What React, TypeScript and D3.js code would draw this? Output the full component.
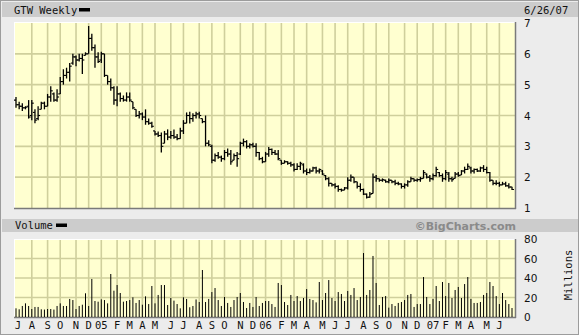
import React from "react";
import * as d3 from "d3";

const HIGH = [
  4.6,4.45,4.4,4.3,4.5,4.5,4.2,4.3,4.45,4.45,
  4.7,4.95,4.75,4.85,5.25,5.5,5.55,5.7,6.0,5.95,
  6.0,6.0,6.05,6.9,6.65,6.3,6.05,6.07,6.0,5.3,
  5.2,4.95,4.95,4.75,4.65,4.75,4.75,4.45,4.2,4.15,
  4.1,4.2,3.9,3.8,3.5,3.48,3.45,3.5,3.55,3.5,
  3.55,3.4,3.6,3.85,4.1,4.12,4.07,4.12,4.12,3.9,
  4.0,3.2,3.05,2.77,2.82,2.7,2.88,2.93,2.88,2.77,
  2.82,3.15,3.25,3.2,3.1,3.12,3.1,2.82,2.66,2.82,
  2.98,2.93,2.88,2.88,2.55,2.55,2.52,2.5,2.45,2.45,
  2.5,2.45,2.28,2.28,2.34,2.34,2.28,2.23,2.07,2.0,
  1.8,1.8,1.74,1.63,1.68,2.0,2.09,2.0,1.85,1.8,
  1.63,1.47,1.52,2.12,2.07,1.96,1.96,1.92,1.96,1.9,
  1.92,1.85,1.8,1.8,1.9,2.01,1.96,1.96,2.01,2.23,
  2.12,2.07,2.12,2.34,2.17,2.12,2.23,2.17,2.01,2.17,
  2.17,2.23,2.34,2.44,2.34,2.28,2.28,2.34,2.39,2.34,
  2.17,1.9,1.9,1.85,1.85,1.85,1.8,1.69,
];

const LOW = [
  4.25,4.2,4.15,4.2,3.9,3.85,3.75,3.85,4.2,4.2,
  4.3,4.45,4.45,4.45,4.7,5.0,5.2,5.1,5.65,5.6,
  5.75,5.35,5.95,6.0,6.1,5.55,5.7,5.7,5.25,5.0,
  4.8,4.35,4.3,4.45,4.45,4.45,4.45,4.2,3.95,3.9,
  3.85,3.7,3.7,3.6,3.35,3.3,2.8,3.1,3.2,3.25,
  3.25,3.2,3.25,3.4,3.75,3.74,3.8,3.9,3.9,3.75,
  3.0,3.0,2.45,2.5,2.6,2.5,2.55,2.66,2.4,2.55,
  2.34,2.72,3.0,2.93,2.93,2.96,2.66,2.55,2.45,2.5,
  2.66,2.72,2.72,2.55,2.4,2.45,2.4,2.34,2.18,2.23,
  2.23,2.12,2.07,2.12,2.18,2.12,2.12,2.07,1.9,1.7,
  1.7,1.63,1.53,1.53,1.58,1.6,1.85,1.8,1.63,1.53,
  1.42,1.31,1.33,1.47,1.85,1.85,1.85,1.82,1.8,1.8,
  1.74,1.74,1.63,1.63,1.69,1.85,1.85,1.85,1.85,1.96,
  1.96,1.85,1.9,2.01,2.01,1.85,1.9,1.85,1.85,1.96,
  2.01,2.07,2.12,2.23,2.12,2.12,2.17,2.17,2.17,2.12,
  1.85,1.74,1.74,1.69,1.74,1.69,1.63,1.58,
];

const OPEN = [
  4.5,4.35,4.3,4.25,4.3,4.0,4.1,3.9,4.2,4.4,
  4.3,4.6,4.7,4.5,4.7,5.1,5.3,5.4,5.7,5.9,
  5.8,5.85,5.95,6.0,6.5,6.2,5.9,5.8,6.0,5.3,
  5.1,4.9,4.5,4.7,4.55,4.5,4.6,4.45,4.2,4.0,
  4.05,3.95,3.8,3.75,3.5,3.4,3.35,3.1,3.4,3.3,
  3.35,3.3,3.25,3.5,3.75,4.0,3.9,4.0,4.05,3.9,
  3.8,3.1,3.0,2.55,2.7,2.65,2.6,2.8,2.75,2.55,
  2.7,2.75,3.1,3.15,3.0,3.05,3.0,2.8,2.6,2.5,
  2.75,2.9,2.8,2.75,2.55,2.45,2.5,2.45,2.4,2.25,
  2.35,2.4,2.2,2.15,2.2,2.3,2.2,2.2,2.05,1.95,
  1.8,1.75,1.7,1.6,1.58,1.65,1.9,2.0,1.85,1.7,
  1.6,1.45,1.35,1.47,2.0,1.95,1.9,1.9,1.85,1.9,
  1.85,1.8,1.78,1.7,1.75,1.85,1.95,1.9,1.92,1.96,
  2.1,2.0,1.95,2.05,2.15,2.05,1.95,2.1,1.95,1.96,
  2.1,2.07,2.2,2.25,2.3,2.2,2.25,2.2,2.3,2.25,
  2.15,1.9,1.8,1.8,1.75,1.78,1.72,1.68,
];

const CLOSE = [
  4.35,4.3,4.25,4.27,3.95,4.4,3.85,4.0,4.4,4.3,
  4.6,4.8,4.5,4.6,5.1,5.3,5.4,5.6,5.9,5.8,
  5.85,5.8,6.0,6.5,6.2,5.9,5.75,6.0,5.3,5.1,
  4.9,4.5,4.7,4.55,4.5,4.6,4.5,4.25,4.0,4.05,
  3.95,3.8,3.75,3.65,3.4,3.35,3.0,3.4,3.3,3.35,
  3.3,3.25,3.5,3.75,4.0,3.9,4.0,4.05,4.0,3.8,
  3.1,3.05,2.55,2.7,2.65,2.6,2.8,2.75,2.5,2.7,
  2.6,3.1,3.15,3.0,3.05,3.0,2.8,2.6,2.5,2.75,
  2.9,2.8,2.75,2.6,2.45,2.5,2.45,2.4,2.25,2.35,
  2.45,2.2,2.15,2.2,2.3,2.2,2.25,2.1,1.95,1.8,
  1.75,1.7,1.6,1.58,1.65,1.9,2.0,1.85,1.7,1.6,
  1.45,1.35,1.45,2.0,1.95,1.9,1.92,1.85,1.9,1.85,
  1.8,1.78,1.7,1.75,1.85,1.95,1.9,1.92,1.95,2.15,
  2.0,1.95,2.05,2.25,2.05,1.95,2.15,1.95,1.92,2.1,
  2.05,2.2,2.25,2.35,2.2,2.25,2.2,2.3,2.25,2.15,
  1.9,1.8,1.8,1.75,1.78,1.72,1.68,1.6,
];

const VOLUME = [
  8.9,7.9,11.3,14,11.3,8.2,10.3,10.3,7.9,7.6,
  8.2,8.2,7.6,11.3,14,11.3,11.3,18.5,17.4,8.2,
  11.3,12.6,24.3,11.3,39,16.4,15.7,18.1,17.4,14,
  44.1,27,32.8,24.6,15.7,16.4,17.4,20.2,14.4,17.4,
  12.6,21.2,13.3,31.8,14,22.6,32.8,32.8,12.3,19.5,
  16.8,13.3,8.9,20.2,18.5,10,11.3,18,15.4,48.2,
  15.4,18.5,25.6,29.7,17.4,11.3,20.5,14.4,10.3,17.4,
  20.5,24.6,15.4,9.2,14.4,10.3,20.5,11.3,14.4,16.4,
  16.4,13.3,10.3,34.9,32.8,15.4,12.3,22.6,16.4,21.5,
  16.4,19.5,28.7,18.5,17.4,15,35.9,17.4,24.6,37.9,
  19.5,16.4,25.6,23.6,16.4,26.7,22.6,29.7,17.4,20.5,
  65.6,22.6,27.7,62.6,34.9,12.3,20.5,21.5,9.6,13.3,
  11.3,14.4,15.4,17.4,22.6,23.6,10.3,13.3,13.3,41,
  20.5,13.3,18.5,31.8,16.4,35.9,21.5,34.9,19.5,27.7,
  30.8,19.5,33.8,41,18.5,14.4,14.4,15.4,22.6,24.6,
  35.9,31.8,21.5,13.3,24.6,17.4,13.3,9.2,
];

const FIRST_WEEK = new Date(2004, 5, 21);
const MONTH_START = new Date(2004, 6, 1);
const MONTH_END = new Date(2007, 6, 1);
const PRICE_TICKS = [1, 2, 3, 4, 5, 6, 7];
const VOLUME_TICKS = [0, 20, 40, 60, 80];
const MONTH_LETTERS = ["J", "F", "M", "A", "M", "J", "J", "A", "S", "O", "N", "D"];
const TITLE = "GTW Weekly";
const DATE_LABEL = "6/26/07";

const W = 579;
const H = 335;
const PL = 14, PR = 515;
const PT = 22, PB = 208;
const VT = 239, VB = 317;
const MONO = "DejaVu Sans Mono, monospace";
const SANS = "DejaVu Sans, sans-serif";
const GRID = "#cfcf9c";
const BG = "#ffffd0";

export default function App() {
  const dates = HIGH.map((_, i) => d3.timeMonday.offset(FIRST_WEEK, i));
  const x = d3.scaleTime().domain([dates[0], dates[dates.length - 1]]).range([16, 512]);
  const y = d3.scaleLinear().domain([1, 7]).range([208, 23]);
  const yv = d3.scaleLinear().domain([0, 80]).range([317, 239]);
  const months = d3.timeMonth.range(MONTH_START, MONTH_END);
  const monthX = months.map((m) => x(d3.timeMonday.floor(m)));

  const gridV = (top: number, bottom: number) =>
    months.map((m, i) =>
      i === 0 ? null : (
        <line key={"g" + top + i} x1={monthX[i]} x2={monthX[i]} y1={top} y2={bottom} stroke={GRID} strokeWidth={1.6} />
      )
    );

  return (
    <svg width={W} height={H} style={{ position: "fixed", left: 0, top: 0 }} xmlns="http://www.w3.org/2000/svg">
      <rect x={0.5} y={0.5} width={W - 1} height={H - 1} fill="#ececec" stroke="#9c9c9c" />
      {/* header bands */}
      <rect x={2} y={2} width={W - 3} height={15} fill="#cccccc" />
      <rect x={2} y={219} width={W - 3} height={13} fill="#cccccc" />
      <text x={14} y={13.5} fontFamily={MONO} fontSize={10.5} fill="#111">{TITLE}</text>
      <rect x={79} y={8} width={11} height={3.5} fill="#000" />
      <text x={524} y={13.5} fontFamily={MONO} fontSize={10.5} fill="#111">{DATE_LABEL}</text>
      <text x={15} y={229} fontFamily={MONO} fontSize={10.5} fill="#111">Volume</text>
      <rect x={56} y={223.5} width={11} height={3.5} fill="#000" />
      <text x={516} y={229.5} textAnchor="end" fontFamily={SANS} fontWeight="bold" fontSize={11} fill="#8a8a8a">©BigCharts.com</text>

      {/* price panel */}
      <rect x={PL} y={PT} width={PR - PL} height={PB - PT} fill={BG} />
      {PRICE_TICKS.slice(1, -1).map((t) => (
        <line key={"hp" + t} x1={PL} x2={PR} y1={y(t)} y2={y(t)} stroke={GRID} strokeWidth={1.6} />
      ))}
      {gridV(PT, PB)}
      <line x1={PL} x2={PR} y1={PT + 0.5} y2={PT + 0.5} stroke="#ffffff" />
      <line x1={PL + 0.5} x2={PL + 0.5} y1={PT} y2={PB} stroke="#ffffff" />
      <line x1={PL} x2={PR + 1} y1={PB + 0.5} y2={PB + 0.5} stroke="#7a7a7a" strokeWidth={1.5} />
      <line x1={PR + 0.5} x2={PR + 0.5} y1={PT} y2={PB + 1} stroke="#7a7a7a" strokeWidth={1.5} />
      {dates.map((d, i) => {
        const cx = x(d);
        return (
          <g key={"b" + i} stroke="#000">
            <line x1={cx} x2={cx} y1={y(HIGH[i])} y2={y(LOW[i])} strokeWidth={1.3} />
            <line x1={cx - 2} x2={cx} y1={y(OPEN[i])} y2={y(OPEN[i])} strokeWidth={1.1} />
            <line x1={cx} x2={cx + 2} y1={y(CLOSE[i])} y2={y(CLOSE[i])} strokeWidth={1.1} />
          </g>
        );
      })}
      {PRICE_TICKS.map((t) => (
        <text key={"pl" + t} x={524} y={y(t) + 4} fontFamily={SANS} fontSize={10.5} fill="#111">{t}</text>
      ))}

      {/* volume panel */}
      <rect x={PL} y={VT} width={PR - PL} height={VB - VT} fill={BG} />
      {VOLUME_TICKS.slice(1, -1).map((t) => (
        <line key={"hv" + t} x1={PL} x2={PR} y1={yv(t)} y2={yv(t)} stroke={GRID} strokeWidth={1.6} />
      ))}
      {gridV(VT, VB)}
      <line x1={PL} x2={PR} y1={VT + 0.5} y2={VT + 0.5} stroke="#ffffff" />
      <line x1={PL + 0.5} x2={PL + 0.5} y1={VT} y2={VB} stroke="#ffffff" />
      <line x1={PL} x2={PR + 1} y1={VB + 0.5} y2={VB + 0.5} stroke="#7a7a7a" strokeWidth={1.5} />
      <line x1={PR + 0.5} x2={PR + 0.5} y1={VT} y2={VB + 1} stroke="#7a7a7a" strokeWidth={1.5} />
      {dates.map((d, i) => (
        <line key={"v" + i} x1={x(d)} x2={x(d)} y1={yv(0)} y2={yv(VOLUME[i])} stroke="#000" strokeWidth={1} />
      ))}
      {VOLUME_TICKS.map((t) => (
        <text key={"vl" + t} x={524} y={yv(t) + 4} fontFamily={SANS} fontSize={10.5} fill="#111">{t}</text>
      ))}
      <text transform={`translate(572,275) rotate(-90)`} textAnchor="middle" fontFamily={MONO} fontSize={10.5} fill="#111">Millions</text>

      {/* month labels */}
      {months.map((m, i) => {
        const label = m.getMonth() === 0 ? d3.timeFormat("%y")(m) : MONTH_LETTERS[m.getMonth()];
        const lx = i === 0 ? 18 : monthX[i];
        return (
          <text key={"m" + i} x={lx} y={329} textAnchor="middle" fontFamily={MONO} fontSize={10.5} fill="#111">{label}</text>
        );
      })}
    </svg>
  );
}
